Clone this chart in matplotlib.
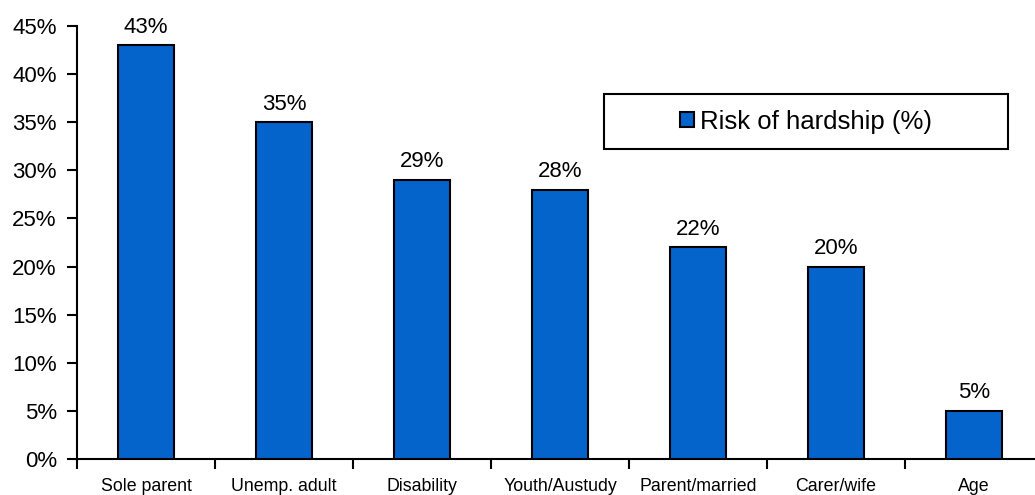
import numpy as np
import matplotlib
matplotlib.use("Agg")
import matplotlib.pyplot as plt
from matplotlib.patches import Rectangle
from matplotlib.ticker import FuncFormatter, MultipleLocator

categories = ["Sole parent", "Unemp. adult", "Disability", "Youth/Austudy",
              "Parent/married", "Carer/wife", "Age"]
risk = [43, 35, 29, 28, 22, 20, 5]
series_name = "Risk of hardship (%)"

plt.rcParams['font.family'] = ['Liberation Sans', 'DejaVu Sans']

W, H = 1035, 495
fig = plt.figure(figsize=(W / 100, H / 100), dpi=100)
ax = fig.add_axes([77 / W, (H - 459) / H, 966 / W, (459 - 26) / H])

x = np.arange(len(categories))
bars = ax.bar(x, risk, width=0.41, color='#0563CC', edgecolor='black',
              linewidth=1.5, label=series_name, zorder=3)

for xi, v in zip(x, risk):
    ax.text(xi, v + 0.8, f"{v}%", ha='center', va='bottom', fontsize=16)

ax.set_xlim(-0.5, len(categories) - 0.5)
ax.set_ylim(0, 45)
ax.yaxis.set_major_locator(MultipleLocator(5))
ax.yaxis.set_major_formatter(FuncFormatter(lambda v, p: f"{v:.0f}%"))
ax.tick_params(axis='y', labelsize=16, direction='out', length=7, width=1.5, pad=7.5)

# category labels centred, ticks on category boundaries
ax.set_xticks(x)
ax.set_xticklabels(categories, fontsize=12.8)
ax.tick_params(axis='x', which='major', length=0, pad=14)
ax.set_xticks(np.arange(len(categories) + 1) - 0.5, minor=True)
ax.tick_params(axis='x', which='minor', direction='out', length=7, width=1.5)

for s in ['top', 'right']:
    ax.spines[s].set_visible(False)
for s in ['left', 'bottom']:
    ax.spines[s].set_linewidth(1.5)

# legend box (Excel style)
lx0 = 604 / W
ly0 = (H - 149) / H
lw = 404 / W
lh = 55 / H
fig.patches.append(Rectangle((lx0, ly0), lw, lh, transform=fig.transFigure,
                             facecolor='white', edgecolor='black', linewidth=1.5,
                             zorder=5))
leg = fig.legend(handles=[bars], labels=[series_name], loc='center',
                 bbox_to_anchor=(lx0, ly0, lw, lh), bbox_transform=fig.transFigure,
                 fontsize=18.5, frameon=False, handlelength=0.55, handleheight=0.55,
                 handletextpad=0.25, borderaxespad=0, borderpad=0)
leg.set_zorder(6)

fig.savefig("out.png", dpi=100)
